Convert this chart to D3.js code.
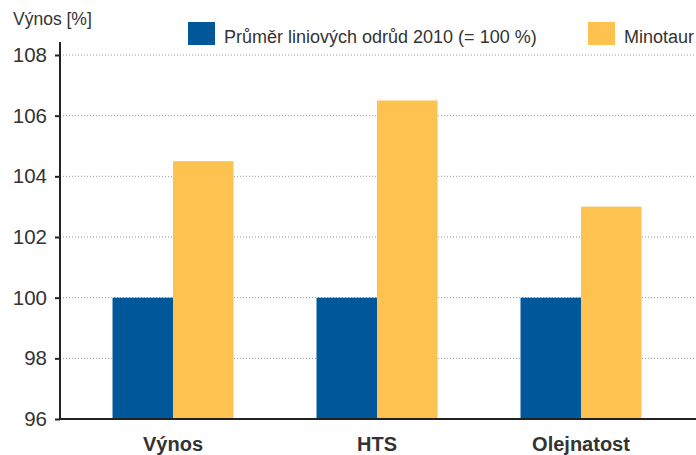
<!DOCTYPE html>
<html>
<head>
<meta charset="utf-8">
<script src="https://cdn.jsdelivr.net/npm/d3@7"></script>
<style>
  body { margin: 0; background: #fff; }
  text { font-family: "Liberation Sans", "DejaVu Sans", sans-serif; fill: #333; }
</style>
</head>
<body>
<div id="chart"></div>
<script>
var categories = ["Výnos", "HTS", "Olejnatost"];
var seriesNames = ["Průměr liniových odrůd 2010 (= 100 %)", "Minotaur"];
var average = [100, 100, 100];
var minotaur = [104.5, 106.5, 103];
var yTicks = [96, 98, 100, 102, 104, 106, 108];
var colors = ["#00579a", "#fdc24f"];

var svgWidth = 696, svgHeight = 455;

var svg = d3.select("#chart")
  .append("svg")
  .attr("width", svgWidth)
  .attr("height", svgHeight);

var y = d3.scaleLinear()
  .domain([96, 108])
  .range([419, 55]);

var x0 = d3.scaleBand()
  .domain(categories)
  .range([71, 683])
  .paddingInner(0.407)
  .paddingOuter(0.2035);

var x1 = d3.scaleBand()
  .domain([0, 1])
  .range([0, x0.bandwidth()]);

// gridlines
svg.append("g")
  .selectAll("line")
  .data(yTicks.slice(1))
  .enter()
  .append("line")
  .attr("x1", 60)
  .attr("x2", 696)
  .attr("y1", d => y(d))
  .attr("y2", d => y(d))
  .attr("stroke", "#999")
  .attr("stroke-width", 1)
  .attr("stroke-dasharray", "1,2");

var rows = categories.map((c, i) => ({cat: c, vals: [average[i], minotaur[i]]}));

svg.append("g")
  .selectAll("g")
  .data(rows)
  .enter()
  .append("g")
  .attr("transform", d => "translate(" + x0(d.cat) + ",0)")
  .selectAll("rect")
  .data(d => d.vals)
  .enter()
  .append("rect")
  .attr("x", (d, i) => x1(i))
  .attr("width", x1.bandwidth())
  .attr("y", d => y(d))
  .attr("height", d => y(96) - y(d))
  .attr("fill", (d, i) => colors[i]);

// y axis
var yAxis = svg.append("g")
  .attr("transform", "translate(60,0)")
  .call(d3.axisLeft(y).tickValues(yTicks).tickSize(5).tickPadding(8).tickFormat(d3.format("d")));
yAxis.select(".domain").remove();
yAxis.selectAll(".tick line").attr("stroke", "#222").attr("stroke-width", 2);
yAxis.selectAll("text")
  .style("font-size", "20.5px")
  .style("font-family", "Liberation Sans, DejaVu Sans, sans-serif")
  .attr("fill", "#333");

svg.append("line")
  .attr("x1", 60).attr("x2", 60)
  .attr("y1", 42).attr("y2", 420)
  .attr("stroke", "#222").attr("stroke-width", 2);

// x axis
var xAxis = svg.append("g")
  .attr("transform", "translate(0,419)")
  .call(d3.axisBottom(x0).tickSize(0).tickPadding(18));
xAxis.select(".domain").remove();
xAxis.selectAll("text")
  .style("font-size", "20px")
  .style("font-weight", "bold")
  .style("font-family", "Liberation Sans, DejaVu Sans, sans-serif")
  .attr("fill", "#222");

svg.append("line")
  .attr("x1", 59).attr("x2", 696)
  .attr("y1", 419).attr("y2", 419)
  .attr("stroke", "#222").attr("stroke-width", 2);

// y title
svg.append("text")
  .attr("x", 13)
  .attr("y", 25)
  .style("font-size", "17.5px")
  .text("Výnos [%]");

// legend
var legendX = [188, 588];
var legend = svg.append("g")
  .selectAll("g")
  .data(seriesNames)
  .enter()
  .append("g")
  .attr("transform", (d, i) => "translate(" + legendX[i] + ",22)");
legend.append("rect")
  .attr("width", 27)
  .attr("height", 23)
  .attr("fill", (d, i) => colors[i]);
legend.append("text")
  .attr("x", 36)
  .attr("y", 21)
  .style("font-size", "18px")
  .text(d => d);
</script>
</body>
</html>
